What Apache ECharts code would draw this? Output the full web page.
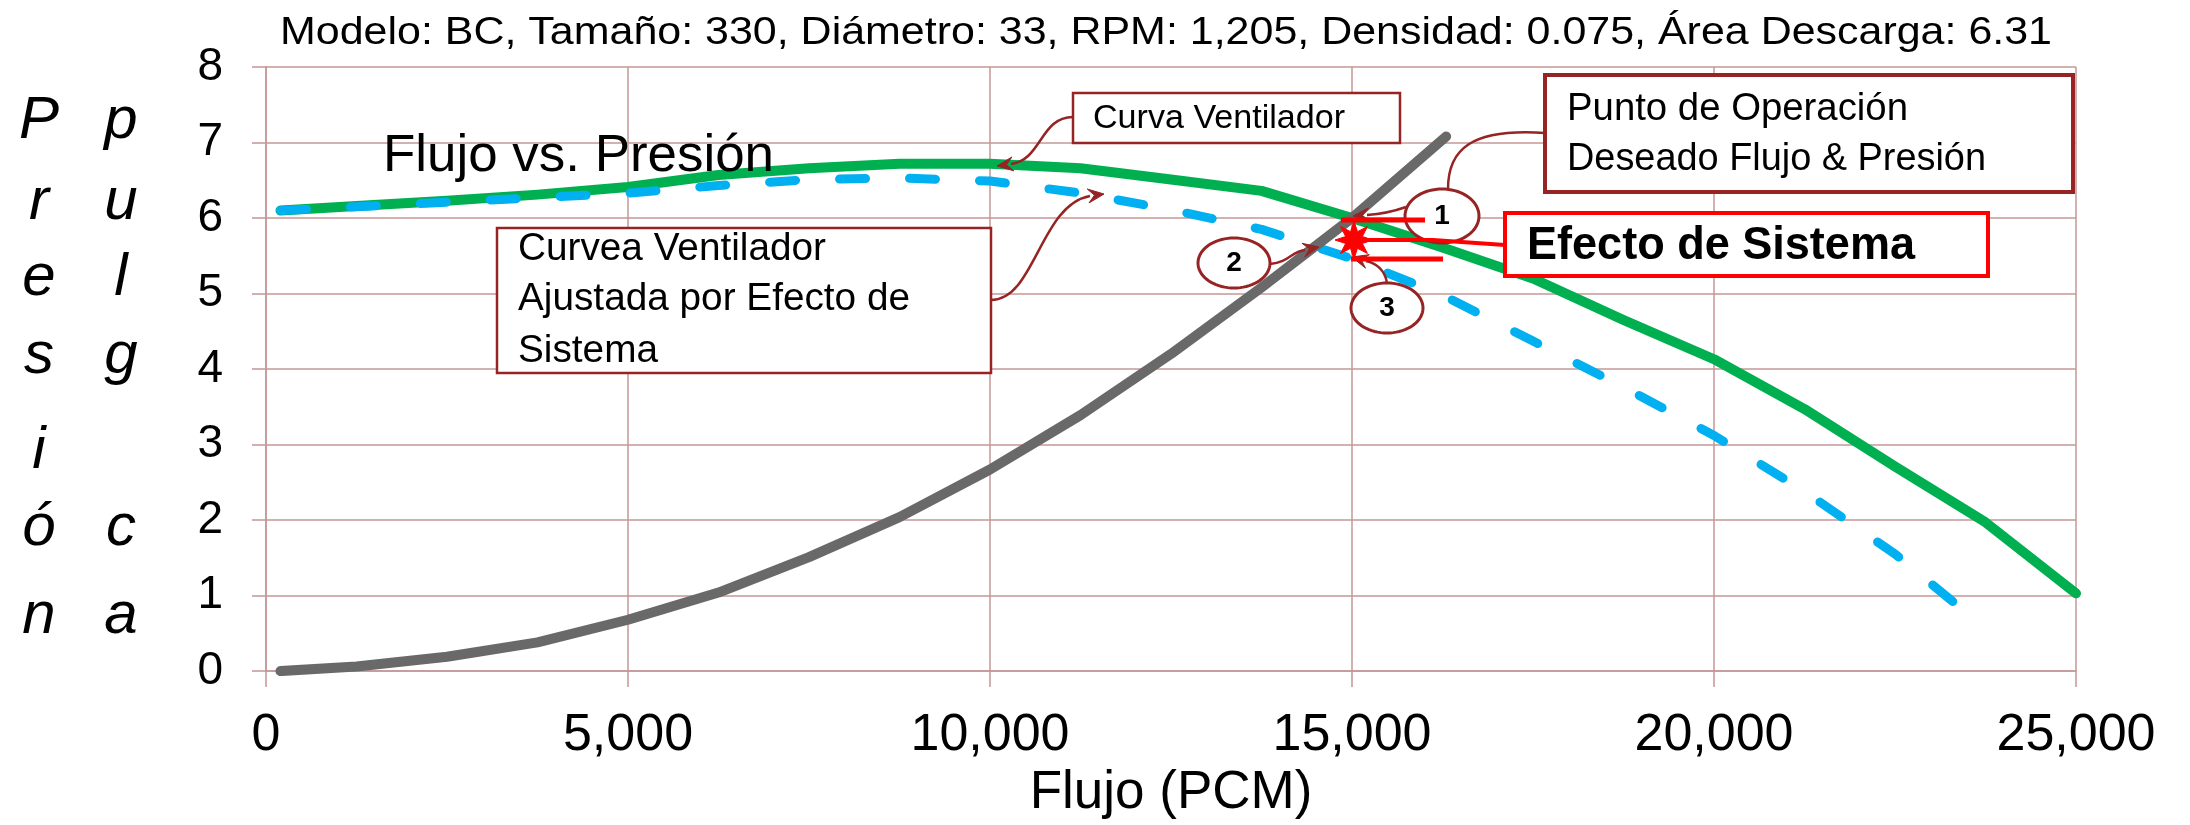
<!DOCTYPE html>
<html>
<head>
<meta charset="utf-8">
<script src="https://cdn.jsdelivr.net/npm/echarts@6/dist/echarts.min.js"></script>
<style>html,body{margin:0;padding:0;background:#fff}#chart{width:2190px;height:825px}</style>
</head>
<body>
<div id="chart"></div>
<script>
// ---------------- DATA ----------------
const chartTitle = 'Modelo: BC, Tamaño: 330, Diámetro: 33, RPM: 1,205, Densidad: 0.075, Área Descarga: 6.31';
const innerTitle = 'Flujo vs. Presión';
const xAxisName = 'Flujo (PCM)';
const yNameCol1 = ['P', 'r', 'e', 's', 'i', 'ó', 'n'];
const yNameCol2 = ['p', 'u', 'l', 'g', '', 'c', 'a'];
const xTickLabels = ['0', '5,000', '10,000', '15,000', '20,000', '25,000'];
const yTickLabels = ['0', '1', '2', '3', '4', '5', '6', '7', '8'];

// Curva Ventilador (green)
const flowFan = [200, 1250, 2500, 3750, 5000, 6250, 7500, 8750, 10000, 11250, 12500, 13750, 15000, 16250, 17500, 18750, 20000, 21250, 22500, 23750, 25000];
const presFan = [6.10, 6.16, 6.23, 6.31, 6.41, 6.57, 6.66, 6.72, 6.72, 6.66, 6.51, 6.36, 6.00, 5.61, 5.20, 4.65, 4.13, 3.47, 2.71, 1.97, 1.03];
// Curva ajustada por efecto de sistema (blue dashed)
const flowAdj = [200, 1250, 2500, 3750, 5000, 6250, 7500, 8750, 10000, 11250, 12500, 13750, 15000, 16250, 17500, 18750, 20000, 21250, 22500, 23350];
const presAdj = [6.10, 6.15, 6.21, 6.27, 6.33, 6.43, 6.51, 6.53, 6.49, 6.33, 6.11, 5.85, 5.46, 4.98, 4.37, 3.76, 3.12, 2.38, 1.55, 0.88];
// Curva del sistema (gray)
const flowSys = [200, 1250, 2500, 3750, 5000, 6250, 7500, 8750, 10000, 11250, 12500, 13750, 15000, 16300];
const presSys = [0.00, 0.06, 0.19, 0.38, 0.68, 1.04, 1.51, 2.04, 2.67, 3.39, 4.20, 5.08, 6.00, 7.08];

const boxFanText = ['Curva Ventilador'];
const boxOpText = ['Punto de Operación', 'Deseado Flujo & Presión'];
const boxAdjText = ['Curvea Ventilador', 'Ajustada por Efecto de', 'Sistema'];
const boxEffText = ['Efecto de Sistema'];
const circleLabels = ['1', '2', '3'];

// ---------------- STYLE HELPERS ----------------
const FONT = '"Liberation Sans", Arial, sans-serif';
const GRID = '#c49797';
const DARKRED = '#962424';
const RED = '#ff0000';
const mctx = document.createElement('canvas').getContext('2d');
function tw(s, font) { mctx.font = font; return mctx.measureText(s).width; }

function txt(str, x, baseline, size, o) {
  o = o || {};
  const font = (o.italic ? 'italic ' : '') + (o.bold ? 'bold ' : '') + size + 'px ' + FONT;
  let sx = 1;
  if (o.width) sx = o.width / tw(str, font);
  return {
    type: 'text', x: x, y: baseline - 0.3465 * size, scaleX: sx, z: 120,
    style: { text: str, font: font, fill: o.color || '#000', align: o.align || 'left', verticalAlign: 'middle',
             textAlign: o.align || 'left', textVerticalAlign: 'middle' }
  };
}
function box(x, y, w, h, color, lw) {
  return { type: 'rect', z: 110, shape: { x: x, y: y, width: w, height: h },
           style: { fill: '#fff', stroke: color, lineWidth: lw } };
}
function curve(p0, c1, c2, p1, color, lw) {
  return { type: 'bezierCurve', z: 115,
           shape: { x1: p0[0], y1: p0[1], cpx1: c1[0], cpy1: c1[1], cpx2: c2[0], cpy2: c2[1], x2: p1[0], y2: p1[1] },
           style: { stroke: color, lineWidth: lw, fill: null } };
}
function arrowHead(tip, from, color, len, hw) {
  len = len || 16; hw = hw || 7;
  const dx = tip[0] - from[0], dy = tip[1] - from[1];
  const d = Math.sqrt(dx * dx + dy * dy);
  const ux = dx / d, uy = dy / d;
  const bx = tip[0] - ux * len, by = tip[1] - uy * len;
  return { type: 'polygon', z: 116,
           shape: { points: [tip, [bx - uy * hw, by + ux * hw], [tip[0] - ux * len * 0.6, tip[1] - uy * len * 0.6], [bx + uy * hw, by - ux * hw]] },
           style: { fill: color, stroke: color, lineWidth: 1 } };
}
function ellipse(cx, cy, rx, ry, color, lw) {
  const pts = [];
  for (let i = 0; i < 72; i++) { const a = i / 72 * Math.PI * 2; pts.push([cx + rx * Math.cos(a), cy + ry * Math.sin(a)]); }
  return { type: 'polygon', z: 112, shape: { points: pts }, style: { fill: '#fff', stroke: color, lineWidth: lw } };
}
function star(cx, cy, ro, ri, n, color) {
  const pts = [];
  for (let i = 0; i < n * 2; i++) {
    const a = i / (n * 2) * Math.PI * 2 - Math.PI / 2;
    const r = i % 2 ? ri : ro;
    pts.push([cx + r * Math.cos(a), cy + r * Math.sin(a)]);
  }
  return { type: 'polygon', z: 125, shape: { points: pts }, style: { fill: color, stroke: color, lineWidth: 1 } };
}
function seg(points, color, lw) {
  return { type: 'polyline', z: 118, shape: { points: points }, style: { stroke: color, lineWidth: lw, fill: null } };
}

// ---------------- GRAPHICS (annotations, layout) ----------------
const g = [];
// title
g.push(txt(chartTitle, 1166, 47, 38, { align: 'center', width: 1772 }));
// inner title
g.push(txt(innerTitle, 383, 175, 52, { width: 391 }));
// y-axis name as two vertical columns
const rowBase = [142, 223, 299, 377, 472, 549, 637];
yNameCol1.forEach((c, i) => { if (c) g.push(txt(c, 39, rowBase[i], 60, { italic: true, align: 'center' })); });
yNameCol2.forEach((c, i) => { if (c) g.push(txt(c, 121, rowBase[i], 60, { italic: true, align: 'center' })); });

// Box: Curva Ventilador
g.push(box(1073, 93, 327, 50, DARKRED, 2.5));
g.push(txt(boxFanText[0], 1093, 130, 34, { width: 252 }));
g.push(curve([1073, 117], [1040, 117], [1042, 160], [1011, 164], DARKRED, 2.5));
g.push(arrowHead([997, 166], [1012, 164], DARKRED));

// Box: Punto de Operacion
g.push(box(1545, 75, 528, 117, DARKRED, 4));
g.push(txt(boxOpText[0], 1567, 123, 38, { width: 341 }));
g.push(txt(boxOpText[1], 1567, 173, 38, { width: 419 }));
g.push(curve([1545, 133], [1470, 128], [1448, 150], [1448, 189], DARKRED, 2.5));

// Box: Curvea Ventilador Ajustada
g.push(box(497, 228, 494, 145, DARKRED, 2.5));
const adjScale = 392 / tw(boxAdjText[1], '38px ' + FONT);
[263, 313, 365].forEach((b, i) => {
  const t = txt(boxAdjText[i], 518, b, 38); t.scaleX = adjScale; g.push(t);
});
g.push(curve([991, 300], [1035, 300], [1040, 205], [1090, 196], DARKRED, 2.5));
g.push(arrowHead([1104, 194], [1088, 196], DARKRED));

// Box: Efecto de Sistema
g.push(box(1505, 213, 483, 63, RED, 4));
g.push(txt(boxEffText[0], 1527, 262, 46, { bold: true, width: 388 }));

// red marker lines and star
g.push(seg([[1341, 220], [1425, 220]], RED, 5));
g.push(seg([[1351, 259], [1443, 259]], RED, 5));
g.push(seg([[1368, 240], [1433, 240], [1505, 245]], RED, 4));
g.push(star(1354, 240, 19, 9, 8, RED));

// circles 1, 2, 3
const circ = [[1442, 216, 37, 27], [1234, 263, 36, 25], [1387, 308, 36, 25]];
circ.forEach((c, i) => {
  g.push(ellipse(c[0], c[1], c[2], c[3], DARKRED, 3));
  const t = txt(circleLabels[i], c[0], c[1] + 0.3465 * 28, 28, { bold: true, align: 'center' });
  t.z = 113; g.push(t);
});
// connectors from circles
g.push(curve([1406, 207], [1392, 212], [1382, 214], [1367, 215], DARKRED, 2.5));
g.push(arrowHead([1353, 216], [1368, 215], DARKRED));
g.push(curve([1270, 264], [1290, 262], [1290, 252], [1305, 250], DARKRED, 2.5));
g.push(arrowHead([1319, 247], [1304, 250], DARKRED));
g.push(curve([1387, 283], [1385, 270], [1376, 263], [1366, 261], DARKRED, 2.5));
g.push(arrowHead([1352, 257], [1366, 261], DARKRED));

// ---------------- CHART ----------------
const chart = echarts.init(document.getElementById('chart'), null, { renderer: 'canvas' });
const zip = (xs, ys) => xs.map((x, i) => [x, ys[i]]);
chart.setOption({
  animation: false,
  backgroundColor: '#fff',
  textStyle: { fontFamily: FONT },
  grid: { left: 266, right: 114, top: 67, bottom: 146, containLabel: false },
  xAxis: {
    type: 'value', min: 0, max: 25000, interval: 5000,
    name: xAxisName, nameLocation: 'middle', nameGap: 91,
    nameTextStyle: { fontSize: 53, color: '#000', fontFamily: FONT },
    axisLine: { show: true, onZero: false, lineStyle: { color: GRID, width: 1.5 } },
    axisTick: { show: true, length: 16, lineStyle: { color: GRID, width: 1.5 } },
    splitLine: { show: true, lineStyle: { color: GRID, width: 1.5 } },
    axisLabel: { fontSize: 52, color: '#000', margin: 39, fontFamily: FONT,
                 formatter: v => xTickLabels[Math.round(v / 5000)] }
  },
  yAxis: {
    type: 'value', min: 0, max: 8, interval: 1,
    axisLine: { show: true, lineStyle: { color: GRID, width: 1.5 } },
    axisTick: { show: true, length: 14, lineStyle: { color: GRID, width: 1.5 } },
    splitLine: { show: true, lineStyle: { color: GRID, width: 1.5 } },
    axisLabel: { fontSize: 46, color: '#000', margin: 43, fontFamily: FONT,
                 formatter: v => yTickLabels[Math.round(v)] }
  },
  series: [
    { name: 'Curva Ventilador', type: 'line', data: zip(flowFan, presFan), symbol: 'none', z: 3,
      lineStyle: { color: '#00b050', width: 10, cap: 'round', join: 'round' } },
    { name: 'Curva Ajustada', type: 'line', data: zip(flowAdj, presAdj), symbol: 'none', z: 4,
      lineStyle: { color: '#00b0f0', width: 9, type: [26, 44], cap: 'round', join: 'round' } },
    { name: 'Curva Sistema', type: 'line', data: zip(flowSys, presSys), symbol: 'none', z: 5,
      lineStyle: { color: '#696969', width: 10, cap: 'round', join: 'round' } }
  ],
  graphic: { elements: g }
});
</script>
</body>
</html>
